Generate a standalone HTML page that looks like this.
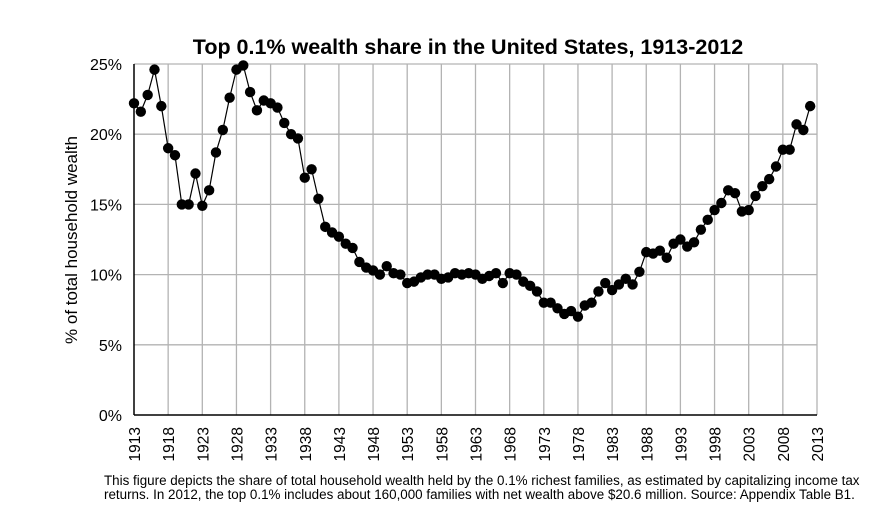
<!DOCTYPE html>
<html><head><meta charset="utf-8"><style>
body{margin:0;background:#fff;}
svg{display:block;font-family:"Liberation Sans",Arial,sans-serif;}
</style></head><body>
<svg id="chart" width="890" height="526" viewBox="0 0 890 526">
<rect width="890" height="526" fill="#fff"/>
<text x="468" y="54" text-anchor="middle" font-size="21.5" font-weight="bold">Top 0.1% wealth share in the United States, 1913-2012</text>
<g id="grid"></g>
<g id="axes"></g>
<g id="series"></g>
<text transform="translate(77,240) rotate(-90)" text-anchor="middle" font-size="17">% of total household wealth</text>
<text x="104" y="485" font-size="13.4">This figure depicts the share of total household wealth held by the 0.1% richest families, as estimated by capitalizing income tax</text>
<text x="104" y="499" font-size="13.4">returns. In 2012, the top 0.1% includes about 160,000 families with net wealth above $20.6 million. Source: Appendix Table B1.</text>
</svg>
<script>
const startYear = 1913;
const shares = [22.2,21.6,22.8,24.6,22.0,19.0,18.5,15.0,15.0,17.2,14.9,16.0,18.7,20.3,22.6,24.6,24.9,23.0,21.7,22.4,22.2,21.9,20.8,20.0,19.7,16.9,17.5,15.4,13.4,13.0,12.7,12.2,11.9,10.9,10.5,10.3,10.0,10.6,10.1,10.0,9.4,9.5,9.8,10.0,10.0,9.7,9.8,10.1,10.0,10.1,10.0,9.7,9.9,10.1,9.4,10.1,10.0,9.5,9.2,8.8,8.0,8.0,7.6,7.2,7.4,7.0,7.8,8.0,8.8,9.4,8.9,9.3,9.7,9.3,10.2,11.6,11.5,11.7,11.2,12.2,12.5,12.0,12.3,13.2,13.9,14.6,15.1,16.0,15.8,14.5,14.6,15.6,16.3,16.8,17.7,18.9,18.9,20.7,20.3,22.0];
const yTicks = [0,5,10,15,20,25];
const xTickYears = [1913,1918,1923,1928,1933,1938,1943,1948,1953,1958,1963,1968,1973,1978,1983,1988,1993,1998,2003,2008,2013];
const NS="http://www.w3.org/2000/svg";
const L=134,R=817,T=64,B=415;
const xs=y=>L+(y-1913)/(2013-1913)*(R-L);
const ys=v=>B-v/25*(B-T);
function mk(tag,attrs,parent){const e=document.createElementNS(NS,tag);for(const k in attrs)e.setAttribute(k,attrs[k]);parent.appendChild(e);return e;}
const grid=document.getElementById('grid'),axes=document.getElementById('axes'),ser=document.getElementById('series');
yTicks.forEach(v=>{
  if(v>0){const g=mk('line',{x1:L,x2:R,y1:ys(v),y2:ys(v),stroke:'#b3b3b3','stroke-width':1.3},grid);
  
  }
  const t=mk('text',{x:L-12,y:ys(v)+6,'text-anchor':'end','font-size':16},axes);t.textContent=v+'%';
  
  
});
xTickYears.forEach(yr=>{
  if(yr>1913){const g=mk('line',{x1:xs(yr),x2:xs(yr),y1:T,y2:B,stroke:'#b3b3b3','stroke-width':1.3},grid);
  
  }
  const t=mk('text',{transform:`translate(${xs(yr)+6},427) rotate(-90)`,'text-anchor':'end','font-size':15.5},axes);t.textContent=yr;
  
  
});
mk('line',{x1:L,x2:L,y1:T,y2:B,stroke:'#000','stroke-width':1.5},axes);
mk('line',{x1:L,x2:R,y1:B,y2:B,stroke:'#000','stroke-width':1.5},axes);
const pts=shares.map((v,i)=>xs(startYear+i)+','+ys(v)).join(' ');
const pl=mk('polyline',{points:pts,fill:'none',stroke:'#000','stroke-width':1.2},ser);


shares.forEach((v,i)=>{
  const c=mk('circle',{cx:xs(startYear+i),cy:ys(v),r:5.2,fill:'#000'},ser);
  
  
});
</script>
</body></html>
